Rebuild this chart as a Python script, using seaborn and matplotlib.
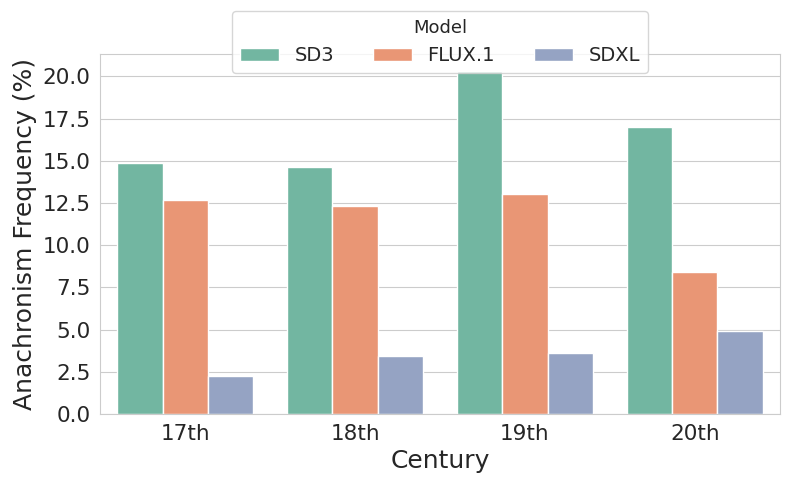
import pandas as pd
import matplotlib
matplotlib.use('Agg')
import matplotlib.pyplot as plt
from matplotlib.ticker import MultipleLocator, FormatStrFormatter
import seaborn as sns

centuries = ['17th', '18th', '19th', '20th']
models = ['SD3', 'FLUX.1', 'SDXL']
sd3 = [14.88, 14.64, 20.32, 17.02]
flux = [12.70, 12.34, 13.04, 8.40]
sdxl = [2.26, 3.45, 3.63, 4.94]


def main():
    rows = []
    for model, vals in zip(models, [sd3, flux, sdxl]):
        for c, v in zip(centuries, vals):
            rows.append({'Century': c, 'Model': model, 'Frequency': v})
    df = pd.DataFrame(rows)

    sns.set_style('whitegrid')
    fig, ax = plt.subplots(figsize=(7.9, 4.86), dpi=100)
    sns.barplot(data=df, x='Century', y='Frequency', hue='Model',
                hue_order=models, order=centuries,
                palette=sns.color_palette('Set2', 3), ax=ax)
    ax.yaxis.set_major_locator(MultipleLocator(2.5))
    ax.yaxis.set_major_formatter(FormatStrFormatter('%.1f'))
    ax.set_xlabel('Century', fontsize=18)
    ax.set_ylabel('Anachronism Frequency (%)', fontsize=18)
    ax.tick_params(axis='both', labelsize=15.5)
    ax.legend(title='Model', loc='upper center', bbox_to_anchor=(0.5, 1.147),
              ncol=3, fontsize=14, title_fontsize=13)
    fig.subplots_adjust(left=0.127, right=0.987, top=0.889, bottom=0.148)
    fig.savefig('out.png', dpi=100)


if __name__ == '__main__':
    main()
